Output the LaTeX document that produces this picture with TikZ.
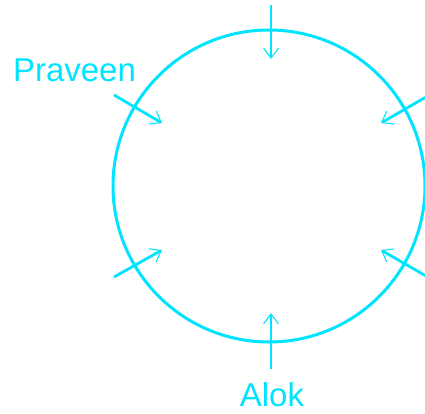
\documentclass[tikz,border=0pt]{standalone}
\usepackage{fontspec}
\setmainfont{Liberation Sans}
\usetikzlibrary{arrows.meta}
\definecolor{ringcyan}{RGB}{0,228,255}
\tikzset{
  pointer/.style={ringcyan, line width=2.8pt,
    -{Straight Barb[length=10pt, width=15pt, line width=1.1pt]}},
  name label/.style={ringcyan, inner sep=0pt, anchor=base,
    font=\fontsize{33}{40}\selectfont}
}
\begin{document}
\begin{tikzpicture}[x=1pt, y=-1pt]
  \useasboundingbox (0,0) rectangle (425,414);
  \draw[ringcyan, line width=3pt] (269,186) circle (156);
  % pointers towards the centre
  \coordinate (topS) at (271,5);    \coordinate (topT) at (271,59);
  \coordinate (botS) at (271,369);  \coordinate (botT) at (271,313);
  \coordinate (luS) at (114,95);    \coordinate (luT) at (162,123);
  \coordinate (llS) at (114,277);   \coordinate (llT) at (162,250);
  \coordinate (ruS) at (426,97);    \coordinate (ruT) at (381,123);
  \coordinate (rlS) at (426,276);   \coordinate (rlT) at (381,250);
  \foreach \p in {top,bot,lu,ll,ru,rl}
    \draw[pointer] (\p S) -- (\p T);
  \node[name label] (praveen) at (74.5,82) {Praveen};
  \node[name label] (alok) at (272,406) {Alok};
\end{tikzpicture}
\end{document}
